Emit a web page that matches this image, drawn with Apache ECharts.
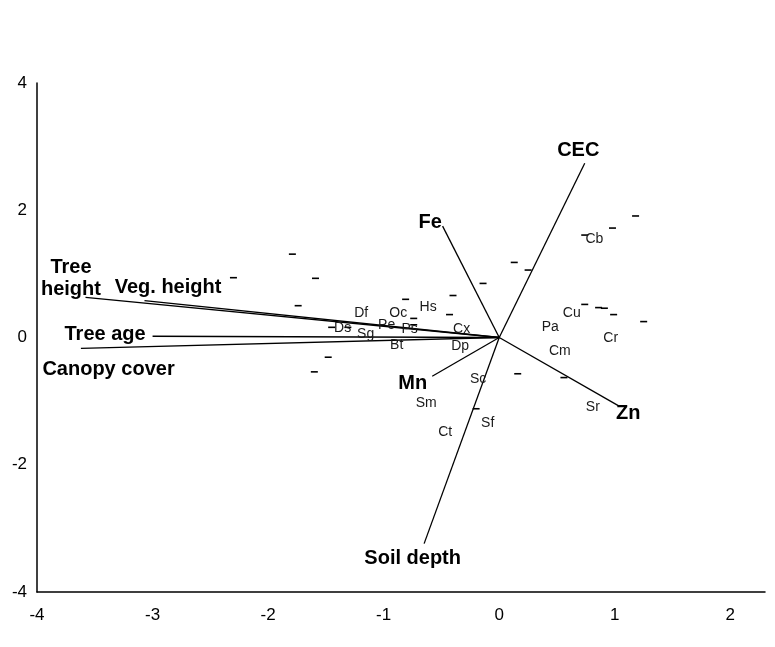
<!DOCTYPE html>
<html><head><meta charset="utf-8">
<script src="https://cdn.jsdelivr.net/npm/echarts@6/dist/echarts.min.js"></script>
<style>html,body{margin:0;padding:0;background:#fff}#c{width:775px;height:647px}</style>
</head><body><div id="c"></div>
<script>
// Environmental vectors (arrow tips) and their label positions
const vectorNames = ['CEC', 'Fe', 'Tree\nheight', 'Veg. height', 'Tree age', 'Canopy cover', 'Mn', 'Soil depth', 'Zn'];
const vectorX = [0.74, -0.49, -3.58, -3.07, -3.00, -3.62, -0.58, -0.65, 1.03];
const vectorY = [2.74, 1.75, 0.63, 0.58, 0.02, -0.17, -0.61, -3.24, -1.07];
const vectorLabelX = [0.684, -0.597, -3.706, -2.866, -3.411, -3.381, -0.749, -0.749, 1.117];
const vectorLabelY = [2.94, 1.81, 0.93, 0.79, 0.04, -0.50, -0.72, -3.47, -1.19];

// Species scores (text labels)
const speciesNames = ['Df', 'Oc', 'Hs', 'Ds', 'Pe', 'Ps', 'Sg', 'Bt', 'Cx', 'Dp', 'Sc', 'Sm', 'Ct', 'Sf', 'Cb', 'Cu', 'Pa', 'Cr', 'Cm', 'Sr'];
const speciesX = [-1.195, -0.874, -0.615, -1.355, -0.974, -0.775, -1.156, -0.887, -0.325, -0.338, -0.182, -0.632, -0.468, -0.100, 0.823, 0.628, 0.442, 0.965, 0.524, 0.810];
const speciesY = [0.378, 0.378, 0.472, 0.150, 0.189, 0.126, 0.047, -0.118, 0.134, -0.134, -0.661, -1.024, -1.480, -1.339, 1.551, 0.378, 0.157, -0.016, -0.220, -1.102];

// Site scores (dash markers)
const siteX = [-2.30, -1.79, -1.59, -1.74, -1.45, -1.31, -1.48, -1.60, -0.81, -0.74, -0.74, -0.40, -0.43, -0.14, 0.13, 0.25, 0.74, 0.98, 1.18, 0.74, 0.86, 0.91, 0.99, 1.25, 0.16, 0.56, -0.20];
const siteY = [0.94, 1.31, 0.93, 0.50, 0.16, 0.16, -0.31, -0.54, 0.60, 0.30, 0.20, 0.66, 0.36, 0.85, 1.18, 1.06, 1.61, 1.72, 1.91, 0.52, 0.47, 0.46, 0.36, 0.25, -0.57, -0.63, -1.12];

const xTicks = [-4, -3, -2, -1, 0, 1, 2];
const yTicks = [-4, -2, 0, 2, 4];

const FONT = "'Liberation Sans', Arial, sans-serif";

const chart = echarts.init(document.getElementById('c'));
chart.setOption({
  animation: false,
  backgroundColor: '#fff',
  grid: { left: 37, right: 10, top: 83, bottom: 55, containLabel: false },
  xAxis: {
    type: 'value', min: -4, max: 2.3, interval: 1,
    axisLine: { show: true, onZero: false, lineStyle: { color: '#000', width: 1.5 } },
    axisTick: { show: false },
    splitLine: { show: false },
    axisLabel: {
      margin: 15, color: '#000', fontSize: 17, fontFamily: FONT,
      formatter: v => xTicks.includes(v) ? String(v) : ''
    }
  },
  yAxis: {
    type: 'value', min: -4, max: 4, interval: 2,
    axisLine: { show: true, onZero: false, lineStyle: { color: '#000', width: 1.5 } },
    axisTick: { show: false },
    splitLine: { show: false },
    axisLabel: {
      margin: 10, color: '#000', fontSize: 17, fontFamily: FONT,
      formatter: v => yTicks.includes(v) ? String(v) : ''
    }
  },
  series: [
    {
      type: 'lines', coordinateSystem: 'cartesian2d', silent: true,
      lineStyle: { color: '#000', width: 1.3, opacity: 1 },
      data: vectorNames.map((n, i) => ({ coords: [[0, 0], [vectorX[i], vectorY[i]]] }))
    },
    {
      type: 'scatter', silent: true,
      symbol: 'rect', symbolSize: [7, 1.6],
      itemStyle: { color: '#000', opacity: 1 },
      data: siteX.map((x, i) => [x, siteY[i]])
    },
    {
      type: 'scatter', silent: true, symbolSize: 0,
      itemStyle: { opacity: 1 },
      label: {
        show: true, position: 'inside', color: '#1a1a1a', fontSize: 14, fontFamily: FONT,
        textBorderWidth: 0,
        formatter: p => speciesNames[p.dataIndex]
      },
      data: speciesX.map((x, i) => [x, speciesY[i]])
    },
    {
      type: 'scatter', silent: true, symbolSize: 0,
      itemStyle: { opacity: 1 },
      label: {
        show: true, position: 'inside', color: '#000', fontSize: 20, fontWeight: 'bold',
        fontFamily: FONT, lineHeight: 22, align: 'center', textBorderWidth: 0,
        formatter: p => vectorNames[p.dataIndex]
      },
      data: vectorLabelX.map((x, i) => [x, vectorLabelY[i]])
    }
  ]
});
</script>
</body></html>
